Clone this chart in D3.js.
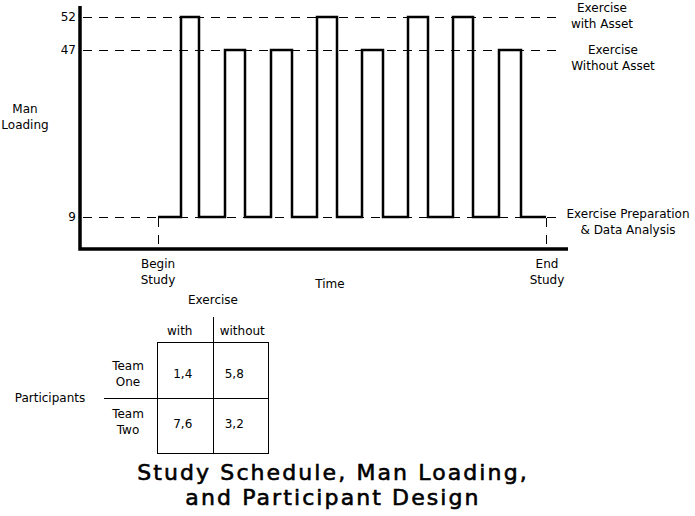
<!DOCTYPE html>
<html>
<head>
<meta charset="utf-8">
<script src="https://cdn.jsdelivr.net/npm/d3@7"></script>
<style>
	body { margin: 0; background: #fff; }
	text { font-family: "DejaVu Sans", sans-serif; font-size: 12px; fill: #000; }
	.title { font-size: 22px; letter-spacing: 2.1px; stroke: #000; stroke-width: 0.6px; }
</style>
</head>
<body>
<script>
//////////////////////////////////////////////
// Data //////////////////////////////////////
//////////////////////////////////////////////
// man loading levels on the y axis
var levels = [9, 47, 52];
var levelLabels = [
	["Exercise Preparation", "& Data Analysis"],
	["Exercise", "Without Asset"],
	["Exercise", "with Asset"]
];

// exercises in time order (study time units, begin = 0, end = 17)
var studyBegin = 0,
	studyEnd = 17;
var exerciseStart = [1, 2.95, 4.95, 6.97, 8.95, 10.96, 12.94, 14.95];
var exerciseEnd   = [1.8, 3.8, 5.87, 7.85, 9.87, 11.84, 13.8, 15.9];
var exerciseLoad  = [52, 47, 47, 52, 47, 52, 52, 47];

// participant design table
var designCols = ["with", "without"];
var designRows = [["Team", "One"], ["Team", "Two"]];
var designCells = [
	["1,4", "5,8"],
	["7,6", "3,2"]
];

var titleLines = ["Study Schedule, Man Loading,", "and Participant Design"];

//////////////////////////////////////////////
// Chart Config /////////////////////////////
//////////////////////////////////////////////
var width = 695,
	height = 516;

var frame = {left: 80, right: 568, top: 6, bottom: 249};

var xScale = d3.scaleLinear().domain([studyBegin, studyEnd]).range([158, 546]);
// the man loading axis is schematic, not to scale
var yScale = d3.scaleLinear().domain([0, 9, 47, 52]).range([frame.bottom, 217, 50, 17]);

function crisp(v) { return Math.round(v) + 0.5; }

var svg = d3.select("body")
			.append("svg")
			.attr("width", width)
			.attr("height", height);

svg.append("rect").attr("width", width).attr("height", height).attr("fill", "#fff");

//////////////////////////////////////////////
// Reference lines ///////////////////////////
//////////////////////////////////////////////
svg.selectAll(".ref")
	.data(levels)
	.enter().append("line")
	.attr("class", "ref")
	.attr("x1", frame.left + 3)
	.attr("x2", 558)
	.attr("y1", function(d) { return crisp(yScale(d)); })
	.attr("y2", function(d) { return crisp(yScale(d)); })
	.attr("stroke", "#000")
	.attr("stroke-width", 1)
	.attr("stroke-dasharray", "9,7");

// begin / end study markers
svg.selectAll(".marker")
	.data([studyBegin, studyEnd])
	.enter().append("line")
	.attr("class", "marker")
	.attr("x1", function(d) { return crisp(xScale(d)); })
	.attr("x2", function(d) { return crisp(xScale(d)); })
	.attr("y1", yScale(9) + 1)
	.attr("y2", frame.bottom - 2)
	.attr("stroke", "#000")
	.attr("stroke-width", 1)
	.attr("stroke-dasharray", "9,8");

//////////////////////////////////////////////
// Step line /////////////////////////////////
//////////////////////////////////////////////
var steps = [[studyBegin, 9]];
exerciseStart.forEach(function(s, i) {
	steps.push([s, 9], [s, exerciseLoad[i]], [exerciseEnd[i], exerciseLoad[i]], [exerciseEnd[i], 9]);
});
steps.push([studyEnd, 9]);

var line = d3.line()
	.x(function(d) { return Math.round(xScale(d[0])); })
	.y(function(d) { return Math.round(yScale(d[1])); });

svg.append("path")
	.datum(steps)
	.attr("d", line)
	.attr("fill", "none")
	.attr("stroke", "#000")
	.attr("stroke-width", 2.5)
	.attr("stroke-linejoin", "miter");

//////////////////////////////////////////////
// Axes //////////////////////////////////////
//////////////////////////////////////////////
svg.append("path")
	.attr("d", "M" + frame.left + "," + frame.top + "V" + frame.bottom + "H" + frame.right)
	.attr("fill", "none")
	.attr("stroke", "#000")
	.attr("stroke-width", 3.5);

var yAxis = d3.axisLeft(yScale).tickValues(levels).tickSize(0).tickPadding(2);
svg.append("g")
	.attr("transform", "translate(" + (frame.left - 2) + ",0)")
	.call(yAxis)
	.call(function(g) { g.select(".domain").remove(); })
	.selectAll("text")
	.attr("font-family", "DejaVu Sans, sans-serif")
	.attr("font-size", 12);

// level labels on the right
var rightLabels = svg.selectAll(".levelLabel")
	.data(levels)
	.enter().append("text")
	.attr("class", "levelLabel")
	.attr("text-anchor", "middle")
	.attr("transform", function(d, i) {
		var cx = [628, 613, 602][i];
		var dy = [1, 4, -5][i];
		return "translate(" + cx + "," + (yScale(d) + dy) + ")";
	});
rightLabels.selectAll("tspan")
	.data(function(d, i) { return levelLabels[i]; })
	.enter().append("tspan")
	.attr("x", 0)
	.attr("y", function(d, i) { return i * 16; })
	.text(function(d) { return d; });

function multiline(x, y, lines, gap) {
	var t = svg.append("text").attr("text-anchor", "middle");
	lines.forEach(function(l, i) {
		t.append("tspan").attr("x", x).attr("y", y + i * gap).text(l);
	});
	return t;
}

multiline(25, 113, ["Man", "Loading"], 16);
multiline(xScale(studyBegin), 268, ["Begin", "Study"], 16);
multiline(xScale(studyEnd) + 1, 268, ["End", "Study"], 16);
multiline(330, 288, ["Time"], 16);

//////////////////////////////////////////////
// Participant design table //////////////////
//////////////////////////////////////////////
var colScale = d3.scaleBand().domain(designCols).range([157, 268]);
var rowScale = d3.scaleBand().domain(d3.range(designRows.length)).range([342, 453]);

var tbl = svg.append("g");
tbl.append("rect")
	.attr("x", colScale.range()[0] + 0.5)
	.attr("y", rowScale.range()[0] + 0.5)
	.attr("width", colScale.range()[1] - colScale.range()[0])
	.attr("height", rowScale.range()[1] - rowScale.range()[0])
	.attr("fill", "none")
	.attr("stroke", "#000");

var colSplit = crisp(colScale("without"));
var rowSplit = crisp(rowScale(1));
tbl.append("line")
	.attr("x1", colSplit).attr("x2", colSplit)
	.attr("y1", 317).attr("y2", rowScale.range()[1])
	.attr("stroke", "#000");
tbl.append("line")
	.attr("x1", 104).attr("x2", colScale.range()[1])
	.attr("y1", rowSplit).attr("y2", rowSplit)
	.attr("stroke", "#000");

tbl.selectAll(".colHead")
	.data(designCols)
	.enter().append("text")
	.attr("text-anchor", "middle")
	.attr("x", function(d, i) { return colScale(d) + colScale.bandwidth() / 2 + [-5, 2][i]; })
	.attr("y", 335)
	.text(function(d) { return d; });

var rowLabelShift = [0, -7],
	cellShift = [8, 3];

designRows.forEach(function(r, i) {
	multiline(128, rowScale(i) + rowScale.bandwidth() / 2 + rowLabelShift[i], r, 16);
});

designCells.forEach(function(row, i) {
	tbl.selectAll(".cell" + i)
		.data(row)
		.enter().append("text")
		.attr("text-anchor", "middle")
		.attr("x", function(d, j) { return colScale(designCols[j]) + colScale.bandwidth() / 2 + [-2, -6][j]; })
		.attr("y", rowScale(i) + rowScale.bandwidth() / 2 + cellShift[i])
		.text(function(d) { return d; });
});

multiline(213, 304, ["Exercise"], 16);
multiline(50, 402, ["Participants"], 16);

//////////////////////////////////////////////
// Title /////////////////////////////////////
//////////////////////////////////////////////
titleLines.forEach(function(l, i) {
	svg.append("text")
		.attr("class", "title")
		.attr("text-anchor", "middle")
		.attr("x", 333)
		.attr("y", 480 + i * 25)
		.text(l);
});
</script>
</body>
</html>
